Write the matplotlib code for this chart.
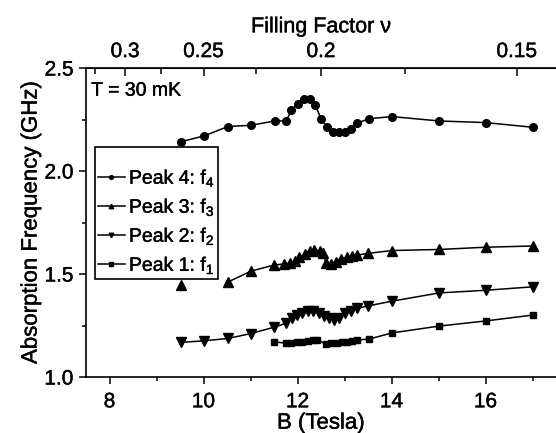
import numpy as np
import matplotlib
matplotlib.use('Agg')
from matplotlib import pyplot as plt
from matplotlib import patheffects

plt.rcParams['font.family'] = ['Liberation Sans', 'DejaVu Sans']
plt.rcParams['mathtext.fontset'] = 'custom'
plt.rcParams['mathtext.rm'] = 'Liberation Sans'

# Peak 4
B4 = [9.52, 10.02, 10.52, 11.01, 11.52, 11.76, 11.87, 12.0, 12.13, 12.26, 12.38,
      12.5, 12.62, 12.75, 12.88, 13.0, 13.13, 13.27, 13.52, 14.01, 15.01, 16.0, 17.02]
f4 = [2.142, 2.171, 2.216, 2.222, 2.243, 2.243, 2.295, 2.324, 2.351, 2.351, 2.32,
      2.254, 2.216, 2.19, 2.19, 2.19, 2.206, 2.232, 2.254, 2.264, 2.243, 2.235, 2.212]

# Peak 3 (first point not joined)
B3 = [9.52, 10.52, 11.01, 11.51, 11.72, 11.83, 11.94, 12.04, 12.15, 12.26, 12.36, 12.47,
      12.54, 12.61, 12.72, 12.82, 12.93, 13.05, 13.16, 13.27, 13.5, 14.01, 15.01, 16.0, 17.02]
f3 = [1.445, 1.461, 1.514, 1.544, 1.549, 1.552, 1.565, 1.581, 1.597, 1.613, 1.617, 1.613,
      1.6, 1.555, 1.549, 1.56, 1.571, 1.581, 1.587, 1.592, 1.6, 1.614, 1.619, 1.63, 1.636]

# Peak 2
B2 = [9.52, 10.02, 10.52, 11.01, 11.49, 11.76, 11.88, 11.98, 12.1, 12.22, 12.33, 12.45,
      12.56, 12.67, 12.77, 12.89, 13.02, 13.14, 13.26, 13.5, 14.01, 15.01, 16.0, 17.02]
f2 = [1.168, 1.176, 1.187, 1.211, 1.241, 1.261, 1.285, 1.301, 1.312, 1.32, 1.32, 1.312,
      1.296, 1.285, 1.277, 1.288, 1.309, 1.32, 1.333, 1.345, 1.368, 1.408, 1.421, 1.438]

# Peak 1
B1 = [11.51, 11.75, 11.87, 11.98, 12.1, 12.22, 12.33, 12.42, 12.6, 12.72, 12.83, 12.94,
      13.05, 13.16, 13.27, 13.52, 14.01, 15.01, 16.0, 17.02]
f1 = [1.171, 1.164, 1.166, 1.169, 1.172, 1.175, 1.178, 1.181, 1.16, 1.163, 1.166, 1.169,
      1.172, 1.176, 1.18, 1.184, 1.214, 1.247, 1.272, 1.301]

nu_ticks = [0.3, 0.25, 0.2, 0.15]
nu_labels = ['0.3', '0.25', '0.2', '0.15']
nu_minor = [0.325, 0.275, 0.225, 0.175]

fig = plt.figure(figsize=(5.56, 4.33), dpi=100)
ax = fig.add_axes([86/556, 1-377/433, 470/556, 309/433])

l4, = ax.plot(B4, f4, '-o', color='k', lw=1.1, ms=5.5)
ax.plot(B3[:1], f3[:1], '^', color='k', ms=6.5)
l3, = ax.plot(B3[1:], f3[1:], '-^', color='k', lw=1.1, ms=6.5)
l2, = ax.plot(B2, f2, '-v', color='k', lw=1.1, ms=6.5)
l1, = ax.plot(B1, f1, '-s', color='k', lw=1.1, ms=4.8)

ax.set_xlim(7.5, 17.5)
ax.set_ylim(1.0, 2.5)
ax.set_xticks([8, 10, 12, 14, 16])
ax.set_xticks(np.arange(9, 18, 2), minor=True)
ax.set_yticks([1.0, 1.5, 2.0, 2.5])
ax.set_yticks([1.25, 1.75, 2.25], minor=True)
ax.tick_params(which='both', direction='out', labelsize=15, width=1.1)
ax.tick_params(axis='x', which='major', length=5, pad=6)
ax.tick_params(axis='y', which='major', length=5, pad=4)
ax.tick_params(which='minor', length=3)
ax.spines['right'].set_visible(False)
for s in ['left', 'bottom', 'top']:
    ax.spines[s].set_linewidth(1.2)
ax.set_xlabel('B (Tesla)', fontsize=16, labelpad=1)
ax.set_ylabel('Absorption Frequency (GHz)', fontsize=16, labelpad=2)

top = ax.secondary_xaxis('top', functions=(lambda b: 2.5/np.maximum(b, 1e-6),
                                             lambda n: 2.5/np.maximum(n, 1e-6)))
top.set_xticks(nu_ticks)
top.set_xticklabels(nu_labels)
top.set_xticks(nu_minor, minor=True)
top.tick_params(which='both', direction='in', labelsize=15, width=1.1)
top.tick_params(which='major', length=6, pad=5)
top.tick_params(which='minor', length=4)
top.set_xlabel('Filling Factor \u03bd', fontsize=15.5, labelpad=7)

ax.text(0.011, 0.925, 'T = 30 mK', transform=ax.transAxes, fontsize=14, va='center')

ax.legend([l4, l3, l2, l1],
          ['Peak 4: f$_\\mathregular{4}$', 'Peak 3: f$_\\mathregular{3}$',
           'Peak 2: f$_\\mathregular{2}$', 'Peak 1: f$_\\mathregular{1}$'],
          loc='upper left', bbox_to_anchor=(0.019, 0.744), borderaxespad=0,
          fontsize=14, markerscale=0.5, handlelength=1.4, handletextpad=0.2,
          labelspacing=0.45, fancybox=False, edgecolor='k', framealpha=1,
          borderpad=0.15, title=' ', title_fontsize=8)
leg = ax.get_legend()
leg.get_frame().set_linewidth(1.2)

# scanned figure text looks a bit heavier
for t in fig.findobj(matplotlib.text.Text):
    t.set_path_effects([patheffects.withStroke(linewidth=0.3, foreground='k')])

fig.savefig('out.png', dpi=100)
